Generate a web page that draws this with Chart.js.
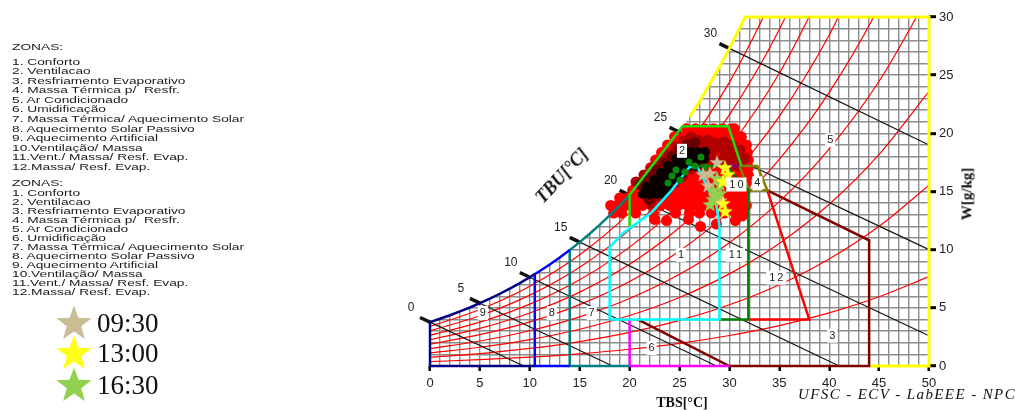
<!DOCTYPE html>
<html>
<head>
<meta charset="utf-8">
<title>Carta bioclimática</title>
<script src="https://cdn.jsdelivr.net/npm/chart.js@4.4.1/dist/chart.umd.min.js"></script>
<style>
  body { margin: 0; background: #fff; }
  #wrap { position: relative; width: 1015px; height: 410px; overflow: hidden; font-family: "Liberation Sans", Arial, sans-serif; }
  #carta { position: absolute; left: 0; top: 0; }
  .zl { position: absolute; left: 12px; height: 10px; line-height: 10px; font-size: 8.6px; color: #1a1a1a; white-space: pre; transform: scaleX(1.6); transform-origin: 0 50%; }
  .hora { position: absolute; left: 97px; height: 30px; line-height: 30px; font-family: "Liberation Serif", "Times New Roman", serif; font-size: 27px; color: #111; }
  .estrela { position: absolute; left: 55px; }
  .tit { position: absolute; font-family: "Liberation Serif", "Times New Roman", serif; font-weight: bold; color: #111; white-space: nowrap; transform: translate(-50%, -50%); }
</style>
</head>
<body>
<div id="wrap">
  <canvas id="carta" width="1015" height="410"></canvas>
  <div id="legendas"></div>
  <div class="tit" style="left:682px; top:403px; font-size:14px;">TBS[°C]</div>
  <div class="tit" style="left:562px; top:176px; font-size:18px; font-style:italic; transform:translate(-50%,-50%) rotate(-47deg);">TBU[°C]</div>
  <div class="tit" style="left:967px; top:194px; font-size:15px; transform:translate(-50%,-50%) rotate(-90deg);">W[g/kg]</div>
  <div class="tit" style="left:798px; top:386px; font-size:15px; font-weight:normal; font-style:italic; letter-spacing:1.4px; transform:none;">UFSC - ECV - LabEEE - NPC</div>
</div>
<script>
document.addEventListener("DOMContentLoaded", () => {

  // =========================
  // DADOS
  // =========================
  const zonas = ["1. Conforto", "2. Ventilacao", "3. Resfriamento Evaporativo", "4. Massa Térmica p/  Resfr.",
    "5. Ar Condicionado", "6. Umidificação", "7. Massa Térmica/ Aquecimento Solar", "8. Aquecimento Solar Passivo",
    "9. Aquecimento Artificial", "10.Ventilação/ Massa", "11.Vent./ Massa/ Resf. Evap.", "12.Massa/ Resf. Evap."];
  const horarios = ["09:30", "13:00", "16:30"];
  const coresHorario = ["#c8bd95", "#ffff1a", "#92d050"];

  // curva de saturação (TBS °C, W g/kg)
  const satT = [0, 1, 2, 3, 4, 5, 6, 7, 8, 9, 10, 10.5, 11, 12, 13, 14, 15, 16, 17, 18, 19, 20, 21, 22, 23, 24, 25, 26, 27, 28, 29, 30, 31, 31.6];
  const satW = [3.77, 4.06, 4.36, 4.69, 5.03, 5.40, 5.79, 6.21, 6.66, 7.13, 7.63, 7.90, 8.17, 8.73, 9.33, 9.97, 10.65, 11.37, 12.13, 12.94, 13.78, 14.70, 15.67, 16.69, 17.77, 18.91, 20.11, 21.40, 22.70, 24.20, 25.70, 27.30, 29.00, 30.00];

  // umidade relativa 10..90 %
  const urT = [0, 5, 10, 15, 20, 25, 30, 35, 40, 45, 50];
  const ur10 = [0.38, 0.54, 0.76, 1.05, 1.44, 1.95, 2.62, 3.47, 4.57, 5.95, 7.68];
  const ur20 = [0.75, 1.07, 1.51, 2.10, 2.89, 3.92, 5.26, 6.99, 9.20, 12.01, 15.54];
  const ur30 = [1.13, 1.61, 2.27, 3.16, 4.34, 5.89, 7.92, 10.54, 13.90, 18.19, 23.61];
  const ur40 = [1.50, 2.15, 3.03, 4.22, 5.80, 7.88, 10.60, 14.13, 18.67, 24.48, 31.88];
  const ur50 = [1.88, 2.69, 3.79, 5.28, 7.26, 9.88, 13.31, 17.77, 23.52, 30.91, 40.4];
  const ur60 = [2.26, 3.23, 4.56, 6.35, 8.74, 11.90, 16.05, 21.45, 28.45, 37.46];
  const ur70 = [2.64, 3.77, 5.32, 7.42, 10.22, 13.92, 18.80, 25.16, 33.43];
  const ur80 = [3.02, 4.32, 6.09, 8.49, 11.70, 15.96, 21.58, 28.92, 38.5];
  const ur90 = [3.40, 4.86, 6.86, 9.57, 13.19, 18.01, 24.38, 32.72];

  // bulbo úmido
  const tbuVal = [0, 5, 10, 15, 20, 25, 30];
  const tbuFimT = [9.4, 18.3, 28.7, 41.0, 50, 50, 50];
  const tbuFimW = [0, 0, 0, 0, 2.6, 10.0, 19.0];

  // zonas
  const zAqArtT = [10.5, 0], zAqArtW = [0, 0];
  const zAqSolT = [14, 10.5], zAqSolW = [0, 0];
  const zMassaAqT = [20, 14], zMassaAqW = [0, 0];
  const zUmidT = [20, 20, 30], zUmidW = [4, 0, 0];
  const zConfortoT = [18, 29, 29, 28.7, 26.8, 26, 24.2, 22.2, 19.3, 18, 18];
  const zConfortoW = [4, 4, 12.1, 13.8, 17.1, 17.1, 15.1, 13.2, 11.4, 10.2, 4];
  const zVentT = [20, 20, 25.3, 29.9, 31.2], zVentW = [12, 14.7, 20.6, 20.6, 17.2];
  const zVentMassaT = [29.7, 31.0], zVentMassaW = [17.2, 17.2];
  const zVMRT = [26.9, 29.7, 30.7, 31.9, 31.9, 29], zVMRW = [17.2, 17.2, 16.2, 15.1, 4, 4];
  const zMassaRT = [31.0, 32.8, 33.8, 32.0, 31.0], zMassaRW = [17.2, 17.2, 15.1, 15.1, 17.2];
  const zMassaEvT = [31.9, 38, 33.8], zMassaEvW = [4, 4, 15.1];
  const zResfEvT = [20.8, 30, 44, 44, 33.8], zResfEvW = [4, 0, 0, 10.8, 15.1];
  const zArCondT = [50, 50, 44], zArCondW = [30, 0, 0];

  const zonaRotulo = ["1", "2", "3", "4", "5", "6", "7", "8", "9", "10", "11", "12"];
  const zonaRotuloT = [25.15, 25.25, 40.3, 32.8, 40.1, 22.2, 16.2, 12.2, 5.3, 30.7, 30.6, 34.7];
  const zonaRotuloW = [9.55, 18.5, 2.6, 15.7, 19.4, 1.55, 4.55, 4.55, 4.55, 15.6, 9.55, 7.6];

  // medições (nuvem)
  const vermW = [20.4, 19.7, 19.0, 18.35, 17.7, 17.05, 16.4, 15.75, 15.1, 14.45, 13.8, 13.15];
  const vermT = [
    [25.7, 26.6, 27.5, 28.4, 29.3, 30.2, 30.5],
    [24.5, 25.4, 26.3, 27.2, 28.1, 29.0, 29.9, 30.8, 31.2],
    [23.8, 24.7, 25.6, 26.5, 27.4, 28.3, 29.2, 30.1, 31.0, 31.7],
    [23.2, 24.1, 25.0, 25.9, 26.8, 27.7, 28.6, 29.5, 30.4, 31.3, 31.8],
    [22.6, 23.5, 24.4, 25.3, 26.2, 27.1, 28.0, 28.9, 29.8, 30.7, 31.6, 31.9],
    [22.1, 23.0, 23.9, 24.8, 25.7, 26.6, 27.5, 28.4, 29.3, 30.2, 31.1, 31.9],
    [21.5, 22.4, 23.3, 24.2, 25.1, 26.0, 26.9, 27.8, 28.7, 29.6, 30.5, 31.4, 31.9],
    [20.9, 21.8, 22.7, 23.6, 24.5, 25.4, 26.3, 27.2, 28.1, 29.0, 29.9, 30.8, 31.7],
    [20.3, 21.2, 22.1, 23.0, 23.9, 24.8, 25.7, 26.6, 27.5, 28.4, 29.3, 30.2, 31.1, 31.6],
    [19.0, 19.8, 20.7, 21.6, 22.5, 23.4, 24.3, 25.2, 26.1, 27.0, 27.9, 28.8, 29.7, 30.6, 31.4],
    [18.1, 18.8, 19.6, 20.4, 21.3, 22.2, 23.1, 24.0, 24.9, 25.8, 26.7, 27.6, 28.5, 29.4, 30.3, 31.2, 31.7],
    [18.4, 19.2, 20.6, 22.4, 24.6, 26.0, 27.0, 28.2, 29.5, 30.6, 31.3]
  ];
  const soltosT = [22.5, 23.7, 25.9, 27.1, 28.7, 30.6, 31.3];
  const soltosW = [12.6, 12.5, 12.6, 12.0, 12.2, 12.5, 12.9];

  const escuroT = [22.14, 22.95, 23.75, 24.55, 25.35, 26.15, 26.95, 27.66, 20.64, 21.44, 22.24, 23.05, 23.85, 24.65, 25.45, 26.15,
    27.56, 28.36, 29.16, 29.96, 30.76, 31.16, 30.36, 29.46, 28.56,
    27.86, 28.66, 29.46, 30.26, 31.06, 31.56, 30.86, 29.86, 26.85, 26.05];
  const escuroW = [13.93, 14.53, 15.13, 15.74, 16.34, 16.94, 17.45, 17.80, 15.82, 16.42, 17.02, 17.63, 18.23, 18.83, 19.35, 19.69,
    19.00, 18.57, 18.74, 18.57, 18.31, 17.63, 17.71, 17.88, 17.71,
    19.43, 19.17, 19.26, 19.00, 18.57, 17.88, 17.20, 17.11, 19.43, 19.17];

  const medioT = [21.04, 21.84, 22.64, 23.45, 24.25, 25.05, 25.85, 26.55, 21.94, 22.74, 23.55, 24.35, 25.15, 25.95, 26.75, 27.35];
  const medioW = [15.62, 16.22, 16.82, 17.42, 18.02, 18.62, 19.02, 19.20, 14.30, 14.90, 15.50, 16.10, 16.70, 17.30, 17.80, 18.10];

  const pretoT = [25.45, 26.15, 26.85, 27.56, 24.65, 25.35, 26.05, 26.75, 27.46, 23.85, 24.55, 25.25, 25.95, 26.65,
    23.15, 23.85, 24.55, 25.25, 22.44, 23.15, 23.85, 24.55, 21.74, 22.44, 23.15, 23.85, 21.34, 22.04, 22.75, 23.35];
  const pretoW = [18.40, 18.40, 18.40, 18.40, 17.80, 17.80, 17.80, 17.80, 17.80, 17.20, 17.20, 17.20, 17.20, 17.20,
    16.60, 16.60, 16.60, 16.60, 15.99, 15.99, 15.99, 15.99, 15.39, 15.39, 15.39, 15.39, 14.79, 14.79, 14.79, 14.79];

  const verdeT = [23.85, 24.25, 24.65, 25.05, 25.95, 26.55, 27.15, 27.56, 25.55];
  const verdeW = [15.74, 16.34, 16.85, 15.99, 17.54, 17.20, 17.97, 17.11, 16.68];

  const h0930T = [28.76, 28.06, 27.35, 27.86, 28.56, 29.06];
  const h0930W = [17.54, 16.60, 16.51, 15.56, 14.70, 14.27];
  const h1300T = [29.56, 29.86, 29.36, 29.36, 29.56];
  const h1300W = [17.11, 16.51, 15.91, 14.02, 13.33];
  const h1630T = [28.76, 29.06, 28.36, 29.06, 28.36, 28.06];
  const h1630W = [16.17, 15.65, 15.13, 14.88, 14.36, 13.93];

  // =========================
  // LEGENDAS HTML
  // =========================
  const leg = document.getElementById("legendas");
  function lista(topo, primeiro, passo) {
    const z = document.createElement("div");
    z.className = "zl"; z.textContent = "ZONAS:"; z.style.top = (topo - 5) + "px";
    leg.appendChild(z);
    zonas.forEach((nome, i) => {
      const d = document.createElement("div");
      d.className = "zl"; d.textContent = nome;
      d.style.top = (primeiro + i * passo - 5) + "px";
      leg.appendChild(d);
    });
  }
  lista(47, 61.7, 9.55);
  lista(183.3, 193.3, 9.0);

  function estrelaPath(cx, cy, r, ri) {
    let p = [];
    for (let i = 0; i < 10; i++) {
      const a = -Math.PI / 2 + i * Math.PI / 5;
      const rr = i % 2 ? ri : r;
      p.push((cx + rr * Math.cos(a)).toFixed(2) + "," + (cy + rr * Math.sin(a)).toFixed(2));
    }
    return p.join(" ");
  }
  const centrosY = [323, 353, 385];
  horarios.forEach((h, i) => {
    const s = document.createElementNS("http://www.w3.org/2000/svg", "svg");
    s.setAttribute("width", 38); s.setAttribute("height", 38);
    s.setAttribute("class", "estrela");
    s.style.top = (centrosY[i] - 19) + "px";
    s.innerHTML = `<polygon points="${estrelaPath(19, 20, 18.5, 7.6)}" fill="${coresHorario[i]}"/>`;
    leg.appendChild(s);
    const t = document.createElement("div");
    t.className = "hora"; t.textContent = h;
    t.style.top = (centrosY[i] - 15) + "px";
    leg.appendChild(t);
  });

  // =========================
  // CONSTRUÇÃO DOS DATASETS
  // =========================
  const pts = (xs, ys) => xs.map((x, i) => ({ x, y: ys[i] }));
  const satPts = (a, b) => pts(satT, satW).filter(p => p.x >= a && p.x <= b);
  const satAt = t => satW[satT.indexOf(t)];

  function estrelaImg(cor, r) {
    const c = document.createElement("canvas");
    c.width = c.height = Math.ceil(2 * r + 2);
    const g = c.getContext("2d");
    g.fillStyle = cor;
    g.beginPath();
    for (let i = 0; i < 10; i++) {
      const a = -Math.PI / 2 + i * Math.PI / 5;
      const rr = i % 2 ? r * 0.42 : r;
      g.lineTo(c.width / 2 + rr * Math.cos(a), c.height / 2 + 1 + rr * Math.sin(a));
    }
    g.closePath(); g.fill();
    return c;
  }

  const linha = (data, cor, largura, ordem, extra = {}) => Object.assign({
    data, showLine: true, borderColor: cor, borderWidth: largura, pointRadius: 0,
    pointHoverRadius: 0, fill: false, order: ordem, clip: false
  }, extra);
  const nuvem = (data, cor, raio, ordem, extra = {}) => Object.assign({
    data, showLine: false, pointRadius: raio, pointHoverRadius: raio,
    pointBackgroundColor: cor, pointBorderWidth: 0, borderColor: cor, order: ordem
  }, extra);

  const datasets = [];

  // fundo branco acima da saturação
  datasets.push(linha([{ x: -0.4, y: 3.62 }, ...satPts(0, 31.6)], "rgba(0,0,0,0)", 0, 30,
    { fill: "end", backgroundColor: "#ffffff" }));

  // umidade relativa
  [ur10, ur20, ur30, ur40, ur50, ur60, ur70, ur80, ur90].forEach(arr => {
    datasets.push(linha(pts(urT.slice(0, arr.length), arr), "#ff0000", 1.2, 25,
      { cubicInterpolationMode: "monotone", clip: 0 }));
  });

  // bulbo úmido
  tbuVal.forEach((v, i) => {
    const w0 = satAt(v);
    const incl = (w0 - tbuFimW[i]) / (tbuFimT[i] - v);
    datasets.push(linha([{ x: v, y: w0 }, { x: tbuFimT[i], y: tbuFimW[i] }], "#151515", 1.2, 24));
    datasets.push(linha([{ x: v - 1.0, y: w0 + incl }, { x: v + 0.1, y: w0 - incl * 0.1 }], "#111", 3.5, 24));
  });

  // medições
  const vermPts = vermT.flatMap((row, i) => row.map(t => ({ x: t, y: vermW[i] }))).concat(pts(soltosT, soltosW));
  datasets.push(nuvem(vermPts, "#ff0000", 5.5, 21));
  datasets.push(nuvem(pts(escuroT, escuroW), "#b00000", 5.5, 20));
  datasets.push(nuvem(pts(medioT, medioW), "#6a0000", 5.5, 19));
  datasets.push(nuvem(pts(pretoT, pretoW), "#0a0000", 5, 18));

  // contornos das zonas
  datasets.push(linha([...pts(zAqArtT, zAqArtW), ...satPts(0, 10.5)], "#000080", 2.5, 10));
  datasets.push(linha([...pts(zAqSolT, zAqSolW), ...satPts(10.5, 14)], "#0000ff", 2.5, 10));
  datasets.push(linha([...pts(zMassaAqT, zMassaAqW), ...satPts(14, 20)], "#008080", 2.5, 10));
  datasets.push(linha(pts(zUmidT, zUmidW), "#ff00ff", 2.5, 10));
  datasets.push(linha(pts(zResfEvT, zResfEvW), "#800000", 2.5, 10));
  datasets.push(linha([...satPts(26, 31.6), ...pts(zArCondT, zArCondW)], "#ffff00", 3, 10));
  datasets.push(linha(pts(zConfortoT, zConfortoW), "#00ffff", 2.5, 9));
  datasets.push(linha(pts(zVentT, zVentW), "#22dd00", 2.5, 9));
  datasets.push(linha(pts(zVMRT, zVMRW), "#008000", 2.5, 9));
  datasets.push(linha(pts(zVentMassaT, zVentMassaW), "#800080", 2.5, 9));
  datasets.push(linha(pts(zMassaRT, zMassaRW), "#808000", 2.5, 9));
  datasets.push(linha(pts(zMassaEvT, zMassaEvW), "#ff0000", 2.5, 9));

  datasets.push(nuvem(pts(verdeT, verdeW), "#0a8a0a", 3.5, 5));

  datasets.push(nuvem(pts(h0930T, h0930W), coresHorario[0], 8, 3, { pointStyle: estrelaImg(coresHorario[0], 8) }));
  datasets.push(nuvem(pts(h1630T, h1630W), coresHorario[2], 8, 2, { pointStyle: estrelaImg(coresHorario[2], 8) }));
  datasets.push(nuvem(pts(h1300T, h1300W), coresHorario[1], 8, 1, { pointStyle: estrelaImg(coresHorario[1], 8) }));

  // =========================
  // RÓTULOS
  // =========================
  const rotulos = {
    id: "rotulos",
    afterDatasetsDraw(chart) {
      const { ctx, scales: { x, y } } = chart;
      ctx.save();
      ctx.textAlign = "center";
      ctx.textBaseline = "middle";
      ctx.font = '12px "Liberation Sans", Arial, sans-serif';
      ctx.fillStyle = "#222";
      tbuVal.forEach((v, i) => {
        const w0 = satAt(v);
        const incl = (w0 - tbuFimW[i]) / (tbuFimT[i] - v);
        ctx.fillText(String(v), x.getPixelForValue(v - 1.0) - 9, y.getPixelForValue(w0 + incl) - 10);
      });
      ctx.font = '11px "Liberation Sans", Arial, sans-serif';
      zonaRotulo.forEach((s, i) => {
        const px = x.getPixelForValue(zonaRotuloT[i]);
        const py = y.getPixelForValue(zonaRotuloW[i]);
        ctx.letterSpacing = s.length > 1 ? "2px" : "0px";
        const w = ctx.measureText(s).width;
        ctx.fillStyle = "#fff";
        ctx.fillRect(px - w / 2 - 2, py - 7, w + 4, 14);
        ctx.fillStyle = "#222";
        ctx.fillText(s, px + (s.length > 1 ? 1 : 0), py);
      });
      ctx.restore();
    }
  };

  const grade = {
    color: c => (c.tick && [0, 30, 50].includes(c.tick.value)) ? "rgba(0,0,0,0)" : "#8c8c8c",
    lineWidth: 1.4,
    drawTicks: true,
    tickColor: c => (c.tick && c.tick.value % 5 === 0) ? "#000" : "rgba(0,0,0,0)",
    tickWidth: 2.5
  };
  const fonteTick = { family: '"Liberation Sans", Arial, sans-serif', size: 13 };

  new Chart(document.getElementById("carta"), {
    type: "scatter",
    data: { datasets },
    options: {
      responsive: false,
      devicePixelRatio: 1,
      animation: false,
      events: [],
      layout: { padding: { left: 430, top: 17, right: 0, bottom: 0 } },
      plugins: { legend: { display: false }, tooltip: { enabled: false } },
      scales: {
        x: {
          type: "linear", position: "bottom", min: 0, max: 50,
          border: { display: false },
          grid: Object.assign({}, grade, { tickLength: 5, color: c => (c.tick && [0, 50].includes(c.tick.value)) ? "rgba(0,0,0,0)" : "#8c8c8c" }),
          ticks: {
            stepSize: 1, maxTicksLimit: 100, autoSkip: false, maxRotation: 0, padding: 5,
            color: "#222", font: fonteTick,
            callback: v => (v % 5 === 0 ? String(v) : "")
          },
          afterFit: s => { s.height = 44; }
        },
        y: {
          type: "linear", position: "right", min: 0, max: 30,
          border: { display: false },
          grid: Object.assign({}, grade, { tickLength: 7, tickWidth: 3 }),
          ticks: {
            stepSize: 1, maxTicksLimit: 100, autoSkip: false, padding: 3,
            color: "#222", font: fonteTick,
            callback: v => (v % 5 === 0 ? String(v) : "")
          },
          afterFit: s => { s.width = 86; }
        }
      }
    },
    plugins: [rotulos]
  });
});
</script>
</body>
</html>
